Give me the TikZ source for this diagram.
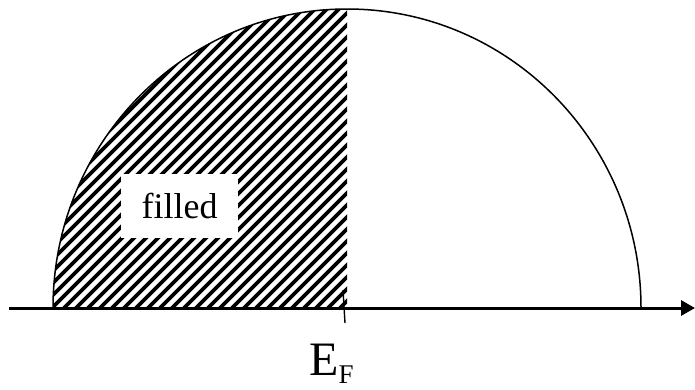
\documentclass[tikz,border=0pt]{standalone}
\usepackage{fontspec}
\setmainfont{Liberation Serif}
\usetikzlibrary{arrows.meta}
\tikzset{
  hatchline/.style={line width=3.6pt, black},
  axisline/.style={line width=3pt, -{Triangle[length=14pt,width=15pt]}},
}
\begin{document}
\begin{tikzpicture}[x=1pt,y=-1pt]
\useasboundingbox (0,0) rectangle (695,389);
% hatched left half
\begin{scope}
  \clip (53,308) arc[start angle=180,end angle=270,x radius=294,y radius=299] -- (347,308) -- cycle;
  \foreach \i in {-320,-308,...,360} \draw[hatchline] (\i,320) -- ++(330,-330);
\end{scope}
% semicircle outline
\draw[line width=1.5pt] (53,308) arc[start angle=180,end angle=360,x radius=294,y radius=299];
% axis
\coordinate (axstart) at (9,308);
\coordinate (axend) at (695,308);
\draw[axisline] (axstart) -- (axend);
% tick at E_F
\coordinate (tick1) at (343,290);
\coordinate (tick2) at (345,323);
\draw[line width=1.4pt] (tick1) -- (tick2);
% labels
\node[fill=white, minimum width=117pt, minimum height=64pt, inner sep=0pt, font=\fontsize{36}{40}\selectfont] (filled) at (179.5,206) {filled};
\node[inner sep=0pt, anchor=base west, font=\fontsize{48}{50}\selectfont] (ef) at (309,375) {E\raisebox{-8pt}[0pt][0pt]{\fontsize{27}{30}\selectfont F}};
\end{tikzpicture}
\end{document}
